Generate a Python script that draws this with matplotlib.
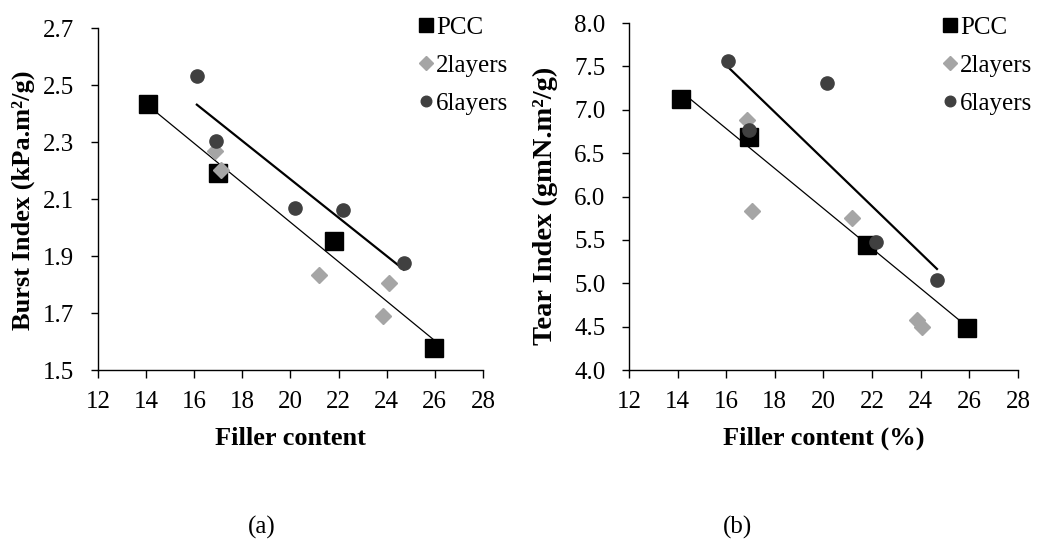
import numpy as np
import matplotlib
matplotlib.use("Agg")
import matplotlib.pyplot as plt

plt.rcParams['font.family'] = ['Liberation Serif', 'DejaVu Serif']

# burst index (panel a)
pcc_x_a = [14.1, 17.0, 21.8, 25.95]
pcc_y_a = [2.433, 2.19, 1.954, 1.576]
l2_x_a = [16.85, 17.1, 21.18, 24.09, 23.84]
l2_y_a = [2.267, 2.202, 1.834, 1.807, 1.69]
l6_x_a = [16.11, 16.92, 20.17, 22.18, 24.71]
l6_y_a = [2.533, 2.304, 2.067, 2.062, 1.874]

# tear index (panel b)
pcc_x_b = [14.14, 16.95, 21.78, 25.9]
pcc_y_b = [7.12, 6.69, 5.44, 4.48]
l2_x_b = [16.84, 17.08, 21.16, 23.85, 24.05]
l2_y_b = [6.88, 5.835, 5.75, 4.58, 4.5]
l6_x_b = [16.08, 16.92, 20.13, 22.16, 24.67]
l6_y_b = [7.56, 6.77, 7.31, 5.48, 5.04]

xticks = [12, 14, 16, 18, 20, 22, 24, 26, 28]

c_pcc = "black"
c_l2 = "#a5a5a5"
c_l6 = "#404040"

fig = plt.figure(figsize=(10.42, 5.43), dpi=100)
ax1 = fig.add_axes([0.094, 0.3186, 0.3695, 0.6298])
ax2 = fig.add_axes([0.6036, 0.3186, 0.3733, 0.639])


def panel(ax, px, py, x2, y2, x6, y6, ylim, yticks, xlabel):
    # trend lines
    k, b = np.polyfit(px, py, 1)
    xs = np.array([min(px), max(px)])
    ax.plot(xs, k * xs + b, color="black", lw=0.9, zorder=1)
    k6, b6 = np.polyfit(x6, y6, 1)
    xs6 = np.array([min(x6), max(x6)])
    ax.plot(xs6, k6 * xs6 + b6, color="black", lw=1.6, zorder=1)

    ax.plot(px, py, 's', color=c_pcc, ms=13, ls='none', label='PCC', zorder=3)
    ax.plot(x2, y2, 'D', color=c_l2, ms=8.3, ls='none', label='2layers', zorder=4)
    ax.plot(x6, y6, 'o', color=c_l6, ms=9.5, ls='none', label='6layers', zorder=5)

    ax.set_xlim(12, 28)
    ax.set_ylim(*ylim)
    ax.set_xticks(xticks)
    ax.set_yticks(yticks)
    ax.set_yticklabels(["{:.1f}".format(v) for v in yticks])
    for s in ['top', 'right']:
        ax.spines[s].set_visible(False)
    for s in ['left', 'bottom']:
        ax.spines[s].set_linewidth(1.0)
    ax.tick_params(direction='out', width=1.0, labelsize=18)
    ax.tick_params(axis='x', length=6, pad=9)
    ax.tick_params(axis='y', length=5, pad=12)
    ax.set_xlabel(xlabel, fontsize=19, fontweight='bold', labelpad=10)


panel(ax1, pcc_x_a, pcc_y_a, l2_x_a, l2_y_a, l6_x_a, l6_y_a,
      (1.5, 2.7), [1.5, 1.7, 1.9, 2.1, 2.3, 2.5, 2.7], "Filler content")
panel(ax2, pcc_x_b, pcc_y_b, l2_x_b, l2_y_b, l6_x_b, l6_y_b,
      (4.0, 8.0), [4.0, 4.5, 5.0, 5.5, 6.0, 6.5, 7.0, 7.5, 8.0], "Filler content (%)")

fig.text(23 / 1042, 1 - 200 / 543, "Burst Index (kPa.m²/g)", rotation=90,
         ha='center', va='center', fontsize=19, fontweight='bold')
fig.text(545 / 1042, 1 - 206 / 543, "Tear Index (gmN.m²/g)", rotation=90,
         ha='center', va='center', fontsize=20.5, fontweight='bold')

for ax, x in [(ax1, 0.502), (ax2, 1.005)]:
    ax.legend(loc='upper right', bbox_to_anchor=(x, 0.997), bbox_transform=fig.transFigure,
              frameon=False, fontsize=18, handletextpad=-0.2, handlelength=1.2,
              labelspacing=0.62, markerscale=0.8, borderaxespad=0.2)

fig.text(262 / 1042, 0.028, "(a)", ha='center', va='center', fontsize=18)
fig.text(737 / 1042, 0.028, "(b)", ha='center', va='center', fontsize=18)

fig.savefig("out.png", dpi=100)
